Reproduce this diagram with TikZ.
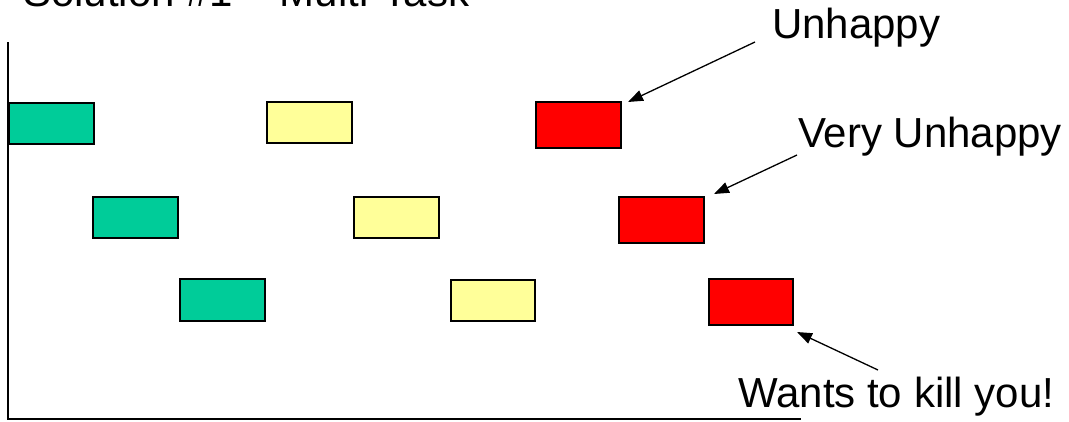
\documentclass[tikz,border=0pt]{standalone}
\usepackage{fontspec}
\setmainfont{Liberation Sans}
\usetikzlibrary{arrows.meta}
\definecolor{taskgreen}{HTML}{00CC99}
\definecolor{taskyellow}{HTML}{FFFF99}
\definecolor{taskred}{HTML}{FF0000}
\tikzset{
  taskbox/.style={draw=black, line width=1.6pt},
  label/.style={inner sep=0pt, font=\fontsize{42}{50}\selectfont},
  callout/.style={line width=1.3pt, -{Triangle[length=15pt,width=11pt]}},
  axis/.style={line width=2pt}
}
\begin{document}
\begin{tikzpicture}[x=1pt, y=-1pt]
\useasboundingbox (0,0) rectangle (1069,421);
\fill[white] (0,0) rectangle (1069,421);

% title (runs off the top edge)
\node[label, anchor=base west] (title) at (23,6) {Solution \#1 – Multi-Task};

% axes
\coordinate (top) at (8,42);
\coordinate (origin) at (8,419);
\coordinate (right) at (801,419);
\draw[axis] (top) -- (origin) -- (right);

% first task, first pass
\draw[taskbox, fill=taskgreen]  (9,103)   rectangle (94,144)  coordinate (g1);
\draw[taskbox, fill=taskyellow] (267,102) rectangle (352,143) coordinate (y1);
\draw[taskbox, fill=taskred]    (536,102) rectangle (621,148) coordinate (r1);
% second task
\draw[taskbox, fill=taskgreen]  (93,197)  rectangle (178,238) coordinate (g2);
\draw[taskbox, fill=taskyellow] (354,197) rectangle (439,238) coordinate (y2);
\draw[taskbox, fill=taskred]    (619,197) rectangle (704,243) coordinate (r2);
% third task
\draw[taskbox, fill=taskgreen]  (180,279) rectangle (265,321) coordinate (g3);
\draw[taskbox, fill=taskyellow] (451,280) rectangle (535,321) coordinate (y3);
\draw[taskbox, fill=taskred]    (709,279) rectangle (793,325) coordinate (r3);

% callouts
\node[label, anchor=base west] (unhappy) at (772,38) {Unhappy};
\node[label, anchor=base west] (veryunhappy) at (798,147) {Very Unhappy};
\node[label, anchor=base west] (kill) at (738,407) {Wants to kill you!};

\coordinate (tip1) at (628,102);
\coordinate (tip2) at (714,194);
\coordinate (tip3) at (797,332);
\coordinate (from1) at (755,42);
\coordinate (from2) at (797,155);
\coordinate (from3) at (878,370);
\draw[callout] (from1) -- (tip1);
\draw[callout] (from2) -- (tip2);
\draw[callout] (from3) -- (tip3);
\end{tikzpicture}
\end{document}
